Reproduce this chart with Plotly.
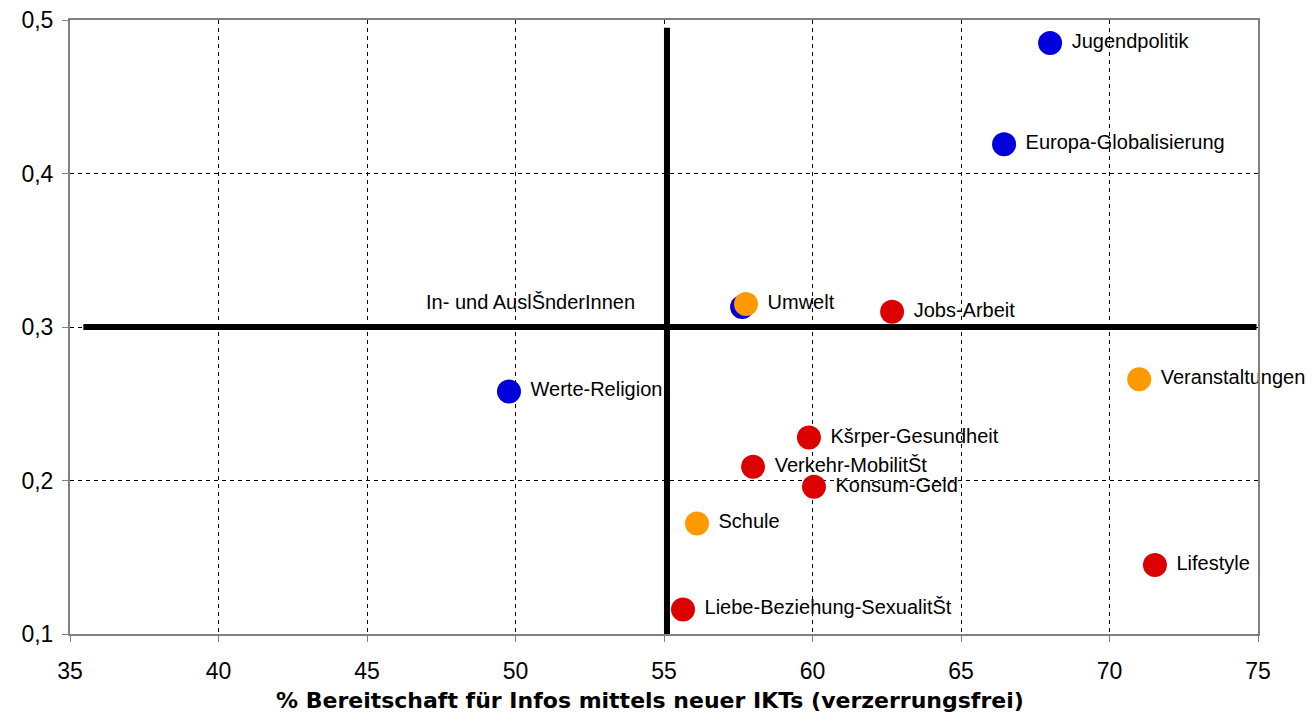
import plotly.graph_objects as go

# Data
topics = ["Jugendpolitik", "Europa-Globalisierung", "In- und AuslŠnderInnen", "Umwelt",
          "Jobs-Arbeit", "Veranstaltungen", "Werte-Religion", "Kšrper-Gesundheit",
          "Verkehr-MobilitŠt", "Konsum-Geld", "Schule", "Lifestyle",
          "Liebe-Beziehung-SexualitŠt"]
x_vals = [68.0, 66.45, 57.63, 57.76, 62.68, 71.0, 49.78, 59.88, 58.0, 60.05, 56.11, 71.53, 55.64]
y_vals = [0.485, 0.419, 0.313, 0.315, 0.310, 0.266, 0.258, 0.228, 0.209, 0.196, 0.172, 0.145, 0.116]
groups = ["blue", "blue", "blue", "orange", "red", "orange", "blue", "red",
          "red", "red", "orange", "red", "red"]

color_map = {"blue": "#0000DD", "orange": "#FF9900", "red": "#DD0000"}

# Reference (quadrant) lines
h_line_x = [35.45, 74.95]
h_line_y = 0.3
v_line_x = 55.1
v_line_y = [0.1, 0.495]

x_ticks = [35, 40, 45, 50, 55, 60, 65, 70, 75]
y_ticks = [0.1, 0.2, 0.3, 0.4, 0.5]

left_label = "In- und AuslŠnderInnen"
x_title = "% Bereitschaft für Infos mittels neuer IKTs (verzerrungsfrei)"

FONT = "Liberation Sans, Arial, sans-serif"
NBSP = "\u00a0"
texts = ["" if t == left_label else NBSP + t for t in topics]

fig = go.Figure()
fig.add_trace(go.Scatter(
    x=x_vals, y=y_vals, mode="markers+text",
    text=texts, textposition="middle right",
    textfont=dict(family=FONT, size=20, color="#000000"),
    marker=dict(size=24, color=[color_map[g] for g in groups], line=dict(width=0)),
    hoverinfo="skip", showlegend=False, cliponaxis=False,
))

# annotation for the left-positioned label
i = topics.index(left_label)
fig.add_annotation(
    x=x_vals[i], y=y_vals[i], text=left_label, showarrow=False,
    xanchor="right", yanchor="middle", xshift=-105, yshift=5,
    font=dict(family=FONT, size=20, color="#000000"),
)

# x-axis title (slightly left of plot centre, as in the original)
fig.add_annotation(
    xref="paper", yref="paper", x=0.488, y=0, text="<b>" + x_title + "</b>",
    showarrow=False, xanchor="center", yanchor="middle", yshift=-66,
    font=dict(family="DejaVu Sans, Verdana, sans-serif", size=22, color="#000000"),
)

fig.add_shape(type="line", x0=h_line_x[0], x1=h_line_x[1], y0=h_line_y, y1=h_line_y,
              line=dict(color="#000000", width=6), layer="above")
fig.add_shape(type="line", x0=v_line_x, x1=v_line_x, y0=v_line_y[0], y1=v_line_y[1],
              line=dict(color="#000000", width=6), layer="above")

fig.update_layout(
    width=1298, height=708,
    margin=dict(l=62, r=48, t=12, b=82),
    paper_bgcolor="#FFFFFF", plot_bgcolor="#FFFFFF",
    separators=",.",
    font=dict(family=FONT, size=23, color="#000000"),
    showlegend=False,
)
fig.update_xaxes(
    range=[35, 75], tickvals=x_ticks, ticktext=[str(t) for t in x_ticks],
    tickfont=dict(family=FONT, size=23, color="#000000"),
    showgrid=True, gridcolor="#000000", griddash="4px,4px", gridwidth=1,
    showline=True, linecolor="#808080", linewidth=2, mirror=True,
    ticks="outside", ticklen=6, tickcolor="#808080", ticklabelstandoff=9,
    ticklabeloverflow="allow",
    zeroline=False, automargin=False,
)
fig.update_yaxes(
    range=[0.1, 0.5], tickvals=y_ticks, tickformat=".1f",
    tickfont=dict(family=FONT, size=23, color="#000000"),
    showgrid=True, gridcolor="#000000", griddash="4px,4px", gridwidth=1,
    showline=True, linecolor="#808080", linewidth=2, mirror=True,
    ticks="outside", ticklen=6, tickcolor="#808080", ticklabelstandoff=4,
    ticklabeloverflow="allow",
    zeroline=False, automargin=False,
)

fig.write_html("out.html")
